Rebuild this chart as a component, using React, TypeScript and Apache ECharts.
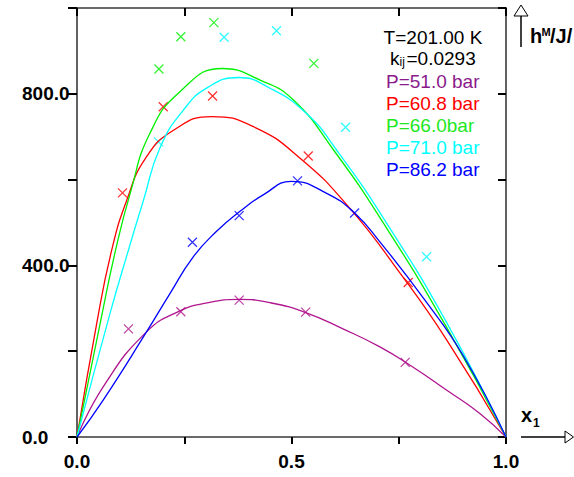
import React, { useEffect, useRef } from "react";
import * as echarts from "echarts";

const xTickLabels = ["0.0", "0.5", "1.0"];
const yTickLabels = ["0.0", "400.0", "800.0"];

const seriesNames = ["P=51.0 bar", "P=60.8 bar", "P=66.0bar", "P=71.0 bar", "P=86.2 bar"];
const lineColors = ["#b0168e", "#ff0000", "#00f000", "#00ffff", "#0000ff"];
const textColors = ["#8b1a8b", "#ff0000", "#1ee81e", "#00ffff", "#0000ff"];

// experimental points (x1, hM)
const p51Points = [[0.12, 252], [0.242, 292], [0.378, 319], [0.533, 291], [0.765, 174]];
const p608Points = [[0.106, 569], [0.201, 770], [0.316, 795], [0.539, 655], [0.772, 360]];
const p660Points = [[0.191, 858], [0.242, 933], [0.319, 966], [0.552, 871]];
const p710Points = [[0.19, 688], [0.343, 932], [0.465, 947], [0.626, 722], [0.815, 420]];
const p862Points = [[0.269, 454], [0.378, 516], [0.514, 597], [0.647, 522]];

// model curves (x1, hM)
const p51Curve = [[0, 0], [0.061, 117], [0.162, 245], [0.24, 294], [0.3, 312], [0.378, 321], [0.45, 313], [0.533, 290], [0.62, 252], [0.706, 210], [0.78, 165], [0.862, 109], [0.939, 55], [1, 0]];
const p608Curve = [[0, 0], [0.046, 265], [0.081, 436], [0.116, 552], [0.16, 650], [0.225, 715], [0.314, 747], [0.41, 724], [0.52, 650], [0.636, 533], [0.75, 386], [0.862, 226], [1, 0]];
const p660Curve = [[0, 0], [0.054, 265], [0.09, 436], [0.124, 568], [0.17, 708], [0.24, 805], [0.339, 859], [0.427, 832], [0.504, 786], [0.598, 669], [0.714, 499], [0.862, 255], [1, 0]];
const p710Curve = [[0, 0], [0.077, 288], [0.12, 436], [0.155, 552], [0.193, 673], [0.248, 762], [0.305, 815], [0.376, 838], [0.45, 813], [0.535, 754], [0.605, 669], [0.722, 498], [0.862, 266], [1, 0]];
const p862Curve = [[0, 0], [0.061, 86], [0.162, 245], [0.217, 335], [0.271, 420], [0.326, 480], [0.38, 526], [0.435, 565], [0.5, 596], [0.582, 568], [0.648, 521], [0.706, 455], [0.811, 319], [0.9, 190], [1, 0]];

const allPoints = [p51Points, p608Points, p660Points, p710Points, p862Points];
const allCurves = [p51Curve, p608Curve, p660Curve, p710Curve, p862Curve];

const FONT = '"Liberation Sans", Arial, sans-serif';

export default function App() {
  const ref = useRef<HTMLDivElement>(null);
  useEffect(() => {
    if (!ref.current) return;
    const chart = echarts.init(ref.current, null, { renderer: "svg" });
    const series: any[] = [];
    allCurves.forEach((c, i) => {
      series.push({
        type: "line",
        name: seriesNames[i],
        data: c,
        xAxisIndex: 0,
        yAxisIndex: 0,
        showSymbol: false,
        smooth: 0.5,
        lineStyle: { color: lineColors[i], width: 1.3 },
        silent: true,
      });
    });
    allPoints.forEach((p, i) => {
      series.push({
        type: "scatter",
        name: seriesNames[i] + " exp",
        data: p,
        xAxisIndex: 0,
        yAxisIndex: 0,
        symbol: "path://M0,0L10,10M10,0L0,10",
        symbolSize: 9,
        itemStyle: { color: "none", borderColor: lineColors[i], borderWidth: 1.3 },
        silent: true,
      });
    });

    const axisLine = { show: true, onZero: false, lineStyle: { color: "#3a3a3a", width: 1.6 } };
    const tickStyle = { color: "#000", width: 2 };

    const graphic: any[] = [
      { type: "text", x: 433, y: 37, style: { text: "T=201.00 K", font: `19px ${FONT}`, fill: "#000", align: "center", verticalAlign: "middle" } },
      { type: "text", x: 390, y: 58, style: { text: "k", font: `19px ${FONT}`, fill: "#000", align: "left", verticalAlign: "middle" } },
      { type: "text", x: 399.5, y: 62, style: { text: "ij", font: `12px ${FONT}`, fill: "#000", align: "left", verticalAlign: "middle" } },
      { type: "text", x: 406.5, y: 58, style: { text: "=0.0293", font: `19px ${FONT}`, fill: "#000", align: "left", verticalAlign: "middle" } },
      // y arrow
      { type: "line", shape: { x1: 521, y1: 47, x2: 521, y2: 16 }, style: { stroke: "#000", lineWidth: 1.5 } },
      { type: "polygon", shape: { points: [[521, 5], [514, 16], [528, 16]] }, style: { fill: "#fff", stroke: "#000", lineWidth: 1 } },
      { type: "text", x: 530, y: 46, style: { text: "h", font: `bold 20px ${FONT}`, fill: "#000", align: "left", verticalAlign: "bottom" } },
      { type: "text", x: 541.5, y: 37, style: { text: "M", font: `bold 11px ${FONT}`, fill: "#000", align: "left", verticalAlign: "bottom" } },
      { type: "text", x: 550, y: 46, style: { text: "/J/", font: `bold 20px ${FONT}`, fill: "#000", align: "left", verticalAlign: "bottom" } },
      // x arrow
      { type: "line", shape: { x1: 521, y1: 437, x2: 566, y2: 437 }, style: { stroke: "#000", lineWidth: 1.5 } },
      { type: "polygon", shape: { points: [[565, 431], [565, 443], [573.5, 437]] }, style: { fill: "#fff", stroke: "#000", lineWidth: 1 } },
      { type: "text", x: 521, y: 425, style: { text: "x", font: `bold 20px ${FONT}`, fill: "#000", align: "left", verticalAlign: "bottom" } },
      { type: "text", x: 533, y: 429, style: { text: "1", font: `bold 12px ${FONT}`, fill: "#000", align: "left", verticalAlign: "bottom" } },
    ];
    seriesNames.forEach((n, i) => {
      graphic.push({
        type: "text",
        x: 386,
        y: 81 + i * 22.2,
        style: { text: n, font: `19px ${FONT}`, fill: textColors[i], align: "left", verticalAlign: "middle" },
      });
    });

    chart.setOption({
      animation: false,
      backgroundColor: "#fff",
      grid: { left: 77, right: 68, top: 8, bottom: 40, containLabel: false },
      xAxis: [
        {
          type: "value", min: 0, max: 1, interval: 0.25, position: "bottom",
          axisLine, axisTick: { show: true, inside: false, length: 7, lineStyle: tickStyle },
          splitLine: { show: false },
          axisLabel: {
            margin: 15, fontSize: 19, fontWeight: "bold", fontFamily: FONT, color: "#000",
            showMinLabel: true, showMaxLabel: true,
            formatter: (v: number) => {
              const idx = [0, 0.5, 1].findIndex((t) => Math.abs(t - v) < 1e-9);
              return idx >= 0 ? xTickLabels[idx] : "";
            },
          },
        },
        {
          type: "value", min: 0, max: 1, interval: 0.25, position: "top",
          axisLine, axisTick: { show: true, inside: true, length: 8, lineStyle: tickStyle },
          splitLine: { show: false }, axisLabel: { show: false },
        },
      ],
      yAxis: [
        {
          type: "value", min: 0, max: 1000, interval: 200, position: "left",
          axisLine, axisTick: { show: true, inside: false, length: 9, lineStyle: tickStyle },
          splitLine: { show: false },
          axisLabel: {
            margin: 55, align: "left", fontSize: 19, fontWeight: "bold", fontFamily: FONT, color: "#000",
            showMinLabel: true,
            formatter: (v: number) => {
              const idx = [0, 400, 800].indexOf(v);
              return idx >= 0 ? yTickLabels[idx] : "";
            },
          },
        },
        {
          type: "value", min: 0, max: 1000, interval: 200, position: "right",
          axisLine, axisTick: { show: true, inside: true, length: 8, lineStyle: tickStyle },
          splitLine: { show: false }, axisLabel: { show: false },
        },
      ],
      series,
      graphic,
    });
    return () => chart.dispose();
  }, []);
  return <div ref={ref} style={{ position: "absolute", left: 0, top: 0, width: 574, height: 477 }} />;
}
